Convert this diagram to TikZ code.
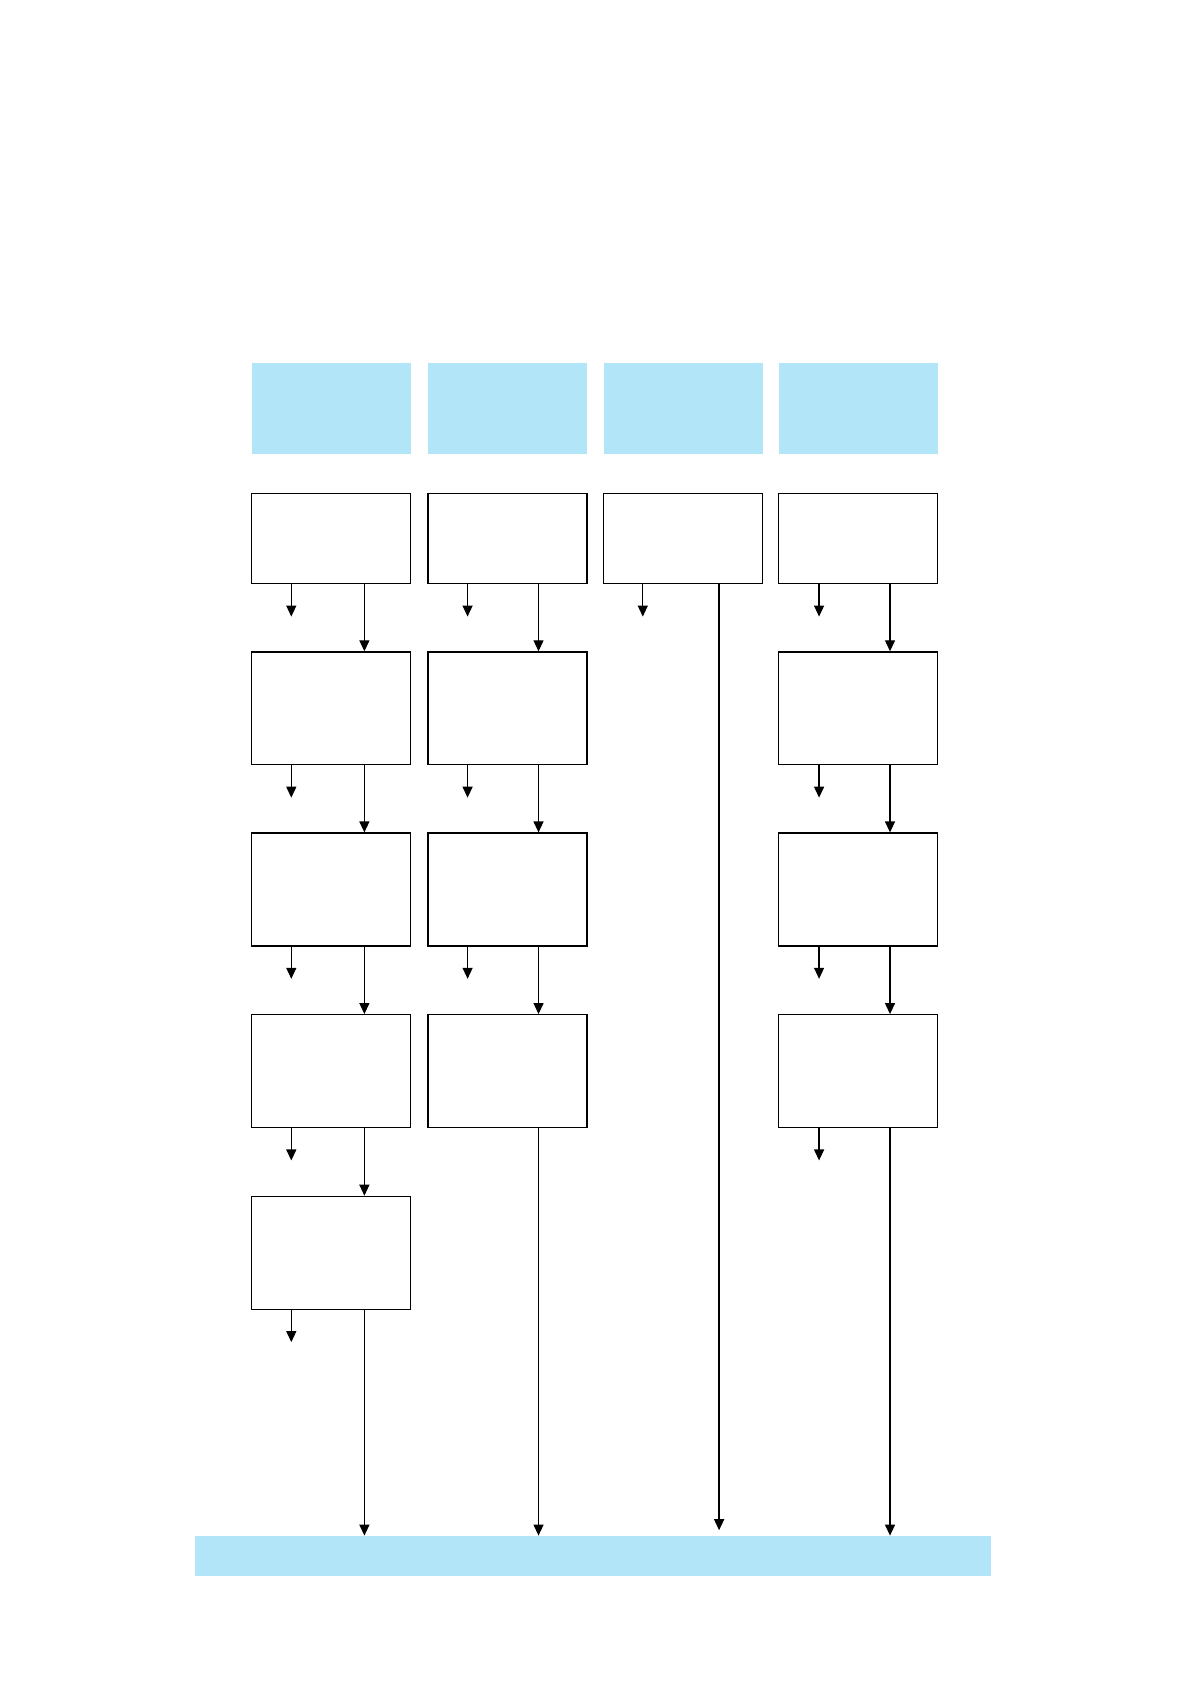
\documentclass[tikz,border=0pt]{standalone}
\usetikzlibrary{arrows.meta}
\definecolor{hdrblue}{RGB}{179,229,249}
\begin{document}
\begin{tikzpicture}[x=0.53745pt,y=-0.53745pt,
  hdr/.style={fill=hdrblue,draw=none,minimum width=79.5pt,minimum height=45.15pt,inner sep=0pt},
  wbox/.style={draw=black,line width=0.65pt,fill=white,minimum width=79.5pt,minimum height=56.43pt,inner sep=0pt},
  wboxs/.style={wbox,minimum height=45.15pt},
  arr/.style={draw=black,line width=0.65pt,-{Triangle[length=5.5pt,width=5pt]}}]
\useasboundingbox (0,0) rectangle (1108,1567.6);
% headers
\node[hdr] (h1) at (308,380) {};
\node[hdr] (h2) at (472,380) {};
\node[hdr] (h3) at (635.5,380) {};
\node[hdr] (h4) at (798.5,380) {};
% row 1
\node[wboxs] (b11) at (308,501) {};
\node[wboxs] (b12) at (472,501) {};
\node[wboxs] (b13) at (635.5,501) {};
\node[wboxs] (b14) at (798.5,501) {};
% row 2
\node[wbox] (b21) at (308,659) {};
\node[wbox] (b22) at (472,659) {};
\node[wbox] (b24) at (798.5,659) {};
% row 3
\node[wbox] (b31) at (308,827.5) {};
\node[wbox] (b32) at (472,827.5) {};
\node[wbox] (b34) at (798.5,827.5) {};
% row 4
\node[wbox] (b41) at (308,996.5) {};
\node[wbox] (b42) at (472,996.5) {};
\node[wbox] (b44) at (798.5,996.5) {};
% row 5
\node[wbox] (b51) at (308,1165.5) {};
% bottom bar
\node[fill=hdrblue,minimum width=398.25pt,minimum height=19.9pt,inner sep=0pt] (bar) at (551.5,1447.5) {};
% column x positions
\coordinate (l1) at (271,0); \coordinate (r1) at (339,0);
\coordinate (l2) at (435,0); \coordinate (r2) at (501,0);
\coordinate (l3) at (598,0); \coordinate (r3) at (669,0);
\coordinate (l4) at (762,0); \coordinate (r4) at (828,0);
% column 1
\draw[arr] (b11.south -| l1) -- ++(0,30);
\draw[arr] (b11.south -| r1) -- (b21.north -| r1);
\draw[arr] (b21.south -| l1) -- ++(0,30);
\draw[arr] (b21.south -| r1) -- (b31.north -| r1);
\draw[arr] (b31.south -| l1) -- ++(0,30);
\draw[arr] (b31.south -| r1) -- (b41.north -| r1);
\draw[arr] (b41.south -| l1) -- ++(0,30);
\draw[arr] (b41.south -| r1) -- (b51.north -| r1);
\draw[arr] (b51.south -| l1) -- ++(0,30);
\draw[arr] (b51.south -| r1) -- (bar.north -| r1);
% column 2
\draw[arr] (b12.south -| l2) -- ++(0,30);
\draw[arr] (b12.south -| r2) -- (b22.north -| r2);
\draw[arr] (b22.south -| l2) -- ++(0,30);
\draw[arr] (b22.south -| r2) -- (b32.north -| r2);
\draw[arr] (b32.south -| l2) -- ++(0,30);
\draw[arr] (b32.south -| r2) -- (b42.north -| r2);
\draw[arr] (b42.south -| r2) -- (bar.north -| r2);
% column 3
\draw[arr] (b13.south -| l3) -- ++(0,30);
\draw[arr,shorten >=2.7pt] (b13.south -| r3) -- (bar.north -| r3);
% column 4
\draw[arr] (b14.south -| l4) -- ++(0,30);
\draw[arr] (b14.south -| r4) -- (b24.north -| r4);
\draw[arr] (b24.south -| l4) -- ++(0,30);
\draw[arr] (b24.south -| r4) -- (b34.north -| r4);
\draw[arr] (b34.south -| l4) -- ++(0,30);
\draw[arr] (b34.south -| r4) -- (b44.north -| r4);
\draw[arr] (b44.south -| l4) -- ++(0,30);
\draw[arr] (b44.south -| r4) -- (bar.north -| r4);
\end{tikzpicture}
\end{document}
